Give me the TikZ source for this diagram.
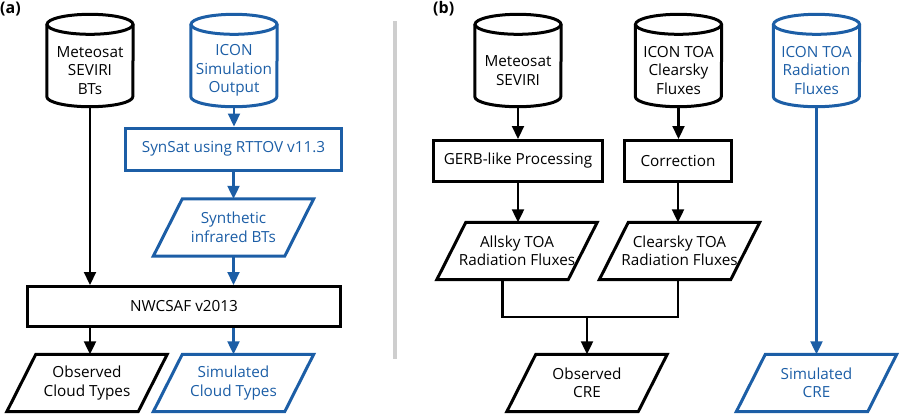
\documentclass[tikz,border=0pt]{standalone}
\usepackage{fontspec}
\setmainfont{Open Sans}
\usetikzlibrary{arrows.meta,calc}
\definecolor{myblue}{RGB}{28,94,166}
\definecolor{divgray}{RGB}{206,206,206}

\tikzset{
  every node/.style={font=\fontsize{15.3}{18.5}\selectfont, align=center, inner sep=0pt},
  procbox/.style={draw, line width=3pt, rectangle, line join=miter},
  bodyc/.style={rectangle, minimum width=86pt, minimum height=72pt},
  para/.style={rectangle, minimum width=131pt, minimum height=57pt},
  conn/.style={line width=2.2pt, -{Triangle[length=13pt,width=12pt]}},
  plainline/.style={line width=2.2pt, line join=miter},
  blk/.style={draw=black, text=black},
  blu/.style={draw=myblue, text=myblue},
  panel/.style={font=\fontsize{16}{18}\selectfont\bfseries, anchor=west},
}

\newcommand\drawcyl[2]{%
  \draw[#2, line width=3pt, line join=round] ($(#1.north west)+(0,10)$) -- ($(#1.south west)+(0,10)$) arc[start angle=180,end angle=360,x radius=43pt,y radius=10pt] -- ($(#1.north east)+(0,10)$);
  \draw[#2, line width=3pt] ($(#1.north)+(0,10)$) ellipse[x radius=43pt, y radius=10pt];
}
\newcommand\drawpara[2]{%
  \draw[#2, line width=3pt, line join=miter] ($(#1.north west)+(14.5,0)$) -- ($(#1.north east)+(14.5,0)$) -- ($(#1.south east)+(-14.5,0)$) -- ($(#1.south west)+(-14.5,0)$) -- cycle;
}

\begin{document}
\begin{tikzpicture}[x=1pt,y=1pt]
\useasboundingbox (0,0) rectangle (900,-416);

% panel labels
\node[panel] (la) at (0,-9) {(a)};
\node[panel] (lb) at (433,-9) {(b)};

% divider
\draw[divgray, line width=4pt] (395,-21) -- (395,-359);

% ----- panel (a)
\node[bodyc, text=black] (c1) at (90,-70.5) {Meteosat\\SEVIRI\\BTs};
\drawcyl{c1}{black}
\node[bodyc, text=myblue] (c2) at (234,-70.5) {ICON\\Simulation\\Output};
\drawcyl{c2}{myblue}

\node[procbox, blu, minimum width=216pt, minimum height=42pt] (syn) at (233.5,-149) {SynSat using RTTOV v11.3};
\node[para, text=myblue] (synth) at (233.5,-227.5) {Synthetic\\infrared BTs};
\drawpara{synth}{myblue}

\node[procbox, blk, minimum width=313pt, minimum height=40pt] (nwc) at (184,-306.5) {NWCSAF v2013};

\node[para, text=black] (obsc) at (87,-383) {Observed\\Cloud Types};
\drawpara{obsc}{black}
\node[para, text=myblue] (simc) at (233.5,-383) {Simulated\\Cloud Types};
\drawpara{simc}{myblue}

\draw[conn, black] (c1.south) -- (c1.south |- nwc.north);
\draw[conn, myblue] (c2.south) -- (c2.south |- syn.north);
\draw[conn, myblue] (syn.south) -- (syn.south |- synth.north);
\draw[conn, myblue] (synth.south) -- (synth.south |- nwc.north);
\draw[conn, black] (nwc.south -| c1.south) -- (c1.south |- obsc.north);
\draw[conn, myblue] (nwc.south -| synth.south) -- (synth.south |- simc.north);

% ----- panel (b)
\node[bodyc, text=black] (r1) at (518,-70.5) {Meteosat\\SEVIRI};
\drawcyl{r1}{black}
\node[bodyc, text=black] (r2) at (678.5,-70.5) {ICON TOA\\Clearsky\\Fluxes};
\drawcyl{r2}{black}
\node[bodyc, text=myblue] (r3) at (816.5,-70.5) {ICON TOA\\Radiation\\Fluxes};
\drawcyl{r3}{myblue}

\node[procbox, blk, minimum width=169pt, minimum height=41pt] (gerb) at (518,-161) {GERB-like Processing};
\node[procbox, blk, minimum width=107pt, minimum height=41pt] (corr) at (678,-161) {Correction};

\node[para, text=black] (allsky) at (517,-251) {Allsky TOA\\Radiation Fluxes};
\drawpara{allsky}{black}
\node[para, text=black] (clear) at (679.5,-251) {Clearsky TOA\\Radiation Fluxes};
\drawpara{clear}{black}

\node[para, text=black] (obscre) at (587,-383) {Observed\\CRE};
\drawpara{obscre}{black}
\node[para, text=myblue] (simcre) at (816.5,-383) {Simulated\\CRE};
\drawpara{simcre}{myblue}

\coordinate (mj) at (587,-317);

\draw[conn, black] (r1.south) -- (r1.south |- gerb.north);
\draw[conn, black] (r2.south) -- (r2.south |- corr.north);
\draw[conn, black] (gerb.south) -- (gerb.south |- allsky.north);
\draw[conn, black] (corr.south) -- (corr.south |- clear.north);
\draw[plainline, black] ($(allsky.south)+(-14.5,0)$) |- (mj) -| (corr.south |- clear.south);
\draw[conn, black] (mj) -- (obscre.north);
\draw[conn, myblue] (r3.south) -- (r3.south |- simcre.north);
\end{tikzpicture}
\end{document}
